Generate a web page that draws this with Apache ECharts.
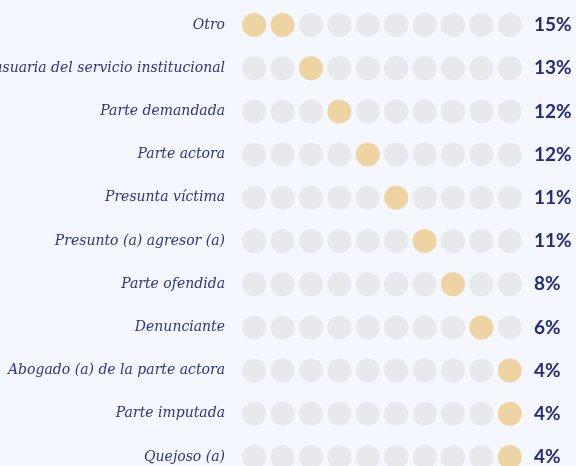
<!DOCTYPE html>
<html>
<head>
<meta charset="utf-8">
<script src="https://cdn.jsdelivr.net/npm/echarts@6/dist/echarts.min.js"></script>
<style>
  html, body { margin: 0; padding: 0; background: #f4f7fd; }
  #chart { width: 576px; height: 466px; }
</style>
</head>
<body>
<div id="chart"></div>
<script>
// filas de arriba hacia abajo
var categories = [
    "Otro",
    "Persona usuaria del servicio institucional",
    "Parte demandada",
    "Parte actora",
    "Presunta víctima",
    "Presunto (a) agresor (a)",
    "Parte ofendida",
    "Denunciante",
    "Abogado (a) de la parte actora",
    "Parte imputada",
    "Quejoso (a)"
];
var percents = [15, 13, 12, 12, 11, 11, 8, 6, 4, 4, 4];
// posicion del circulo resaltado en cada fila
var highlighted = [[0, 1], [2], [3], [4], [5], [6], [7], [8], [9], [9], [9]];
var dotsPerRow = 10;

var grayDots = [], goldDots = [];
categories.forEach(function (c, row) {
    for (var i = 0; i < dotsPerRow; i++) {
        if (highlighted[row].indexOf(i) >= 0) goldDots.push([i, row]);
        else grayDots.push([i, row]);
    }
});

var chart = echarts.init(document.getElementById("chart"));
var yAxisBase = {
    type: "value",
    min: 0,
    max: categories.length - 1,
    interval: 1,
    inverse: true,
    axisLine: { show: false },
    axisTick: { show: false },
    splitLine: { show: false }
};
chart.setOption({
    backgroundColor: "#f4f7fd",
    animation: false,
    grid: {
        left: 240, right: 52, top: 25, bottom: 9,
        containLabel: false,
        outerBoundsMode: "none"
    },
    xAxis: {
        type: "value",
        min: -0.5,
        max: dotsPerRow - 0.5,
        show: false
    },
    yAxis: [
        Object.assign({}, yAxisBase, {
            position: "left",
            axisLabel: {
                margin: 15,
                color: "#2e3384",
                fontFamily: "DejaVu Serif",
                fontStyle: "italic",
                fontSize: 14,
                formatter: function (v) { return categories[v] || ""; }
            }
        }),
        Object.assign({}, yAxisBase, {
            position: "right",
            axisLabel: {
                margin: 10,
                align: "left",
                color: "#262b7a",
                fontFamily: "Lato",
                fontWeight: "bold",
                fontSize: 19,
                formatter: function (v) { return percents[v] + "%"; }
            }
        })
    ],
    series: [
        {
            type: "scatter",
            symbolSize: 24,
            itemStyle: { color: "#e4e5e8" },
            data: grayDots
        },
        {
            type: "scatter",
            symbolSize: 24,
            itemStyle: { color: "#ecca8c" },
            data: goldDots
        }
    ]
});
</script>
</body>
</html>
